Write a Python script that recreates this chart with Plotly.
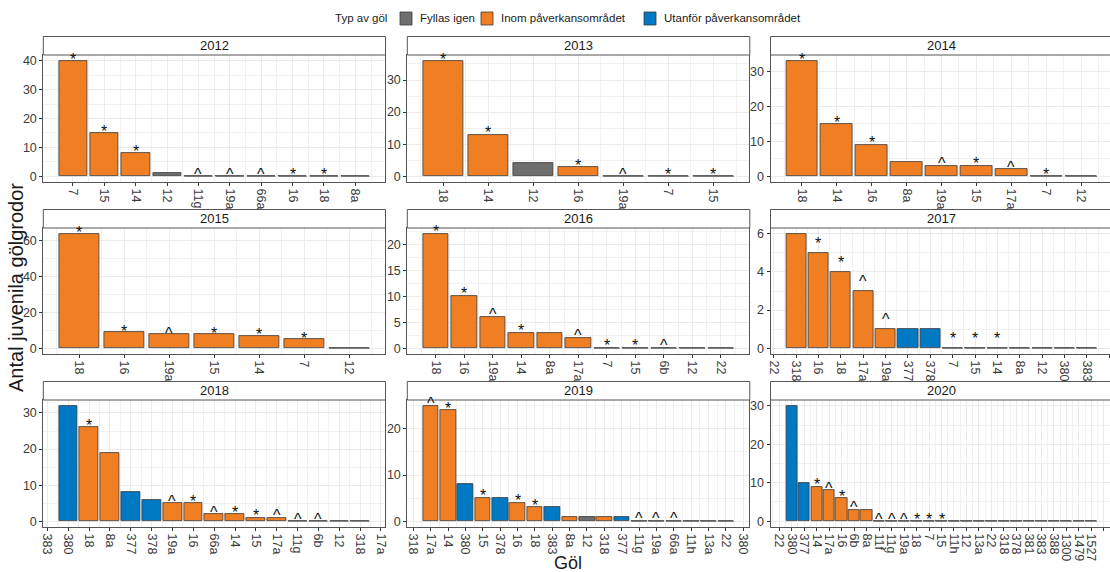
import plotly.graph_objects as go

# ---------------- data ----------------
years = [2012, 2013, 2014, 2015, 2016, 2017, 2018, 2019, 2020]

# F = Fyllas igen, I = Inom påverkansområdet, U = Utanför påverkansområdet
ponds_2012 = ["7", "15", "14", "12", "11g", "19a", "66a", "16", "18", "8a"]
counts_2012 = [40, 15, 8, 1, 0, 0, 0, 0, 0, 0]
types_2012 = ["I", "I", "I", "F", "I", "I", "I", "I", "I", "I"]
marks_2012 = ["*", "*", "*", "", "^", "^", "^", "*", "*", ""]

ponds_2013 = ["18", "14", "12", "16", "19a", "7", "15"]
counts_2013 = [36, 13, 4, 3, 0, 0, 0]
types_2013 = ["I", "I", "F", "I", "I", "I", "I"]
marks_2013 = ["*", "*", "", "*", "^", "*", "*"]

ponds_2014 = ["18", "14", "16", "8a", "19a", "15", "17a", "7", "12"]
counts_2014 = [33, 15, 9, 4, 3, 3, 2, 0, 0]
types_2014 = ["I", "I", "I", "I", "I", "I", "I", "I", "F"]
marks_2014 = ["*", "*", "*", "", "^", "*", "^", "*", ""]

ponds_2015 = ["18", "16", "19a", "15", "14", "7", "12"]
counts_2015 = [64, 9, 8, 8, 7, 5, 0]
types_2015 = ["I", "I", "I", "I", "I", "I", "F"]
marks_2015 = ["*", "*", "^", "*", "*", "*", ""]

ponds_2016 = ["18", "16", "19a", "14", "8a", "17a", "7", "15", "6b", "12", "22"]
counts_2016 = [22, 10, 6, 3, 3, 2, 0, 0, 0, 0, 0]
types_2016 = ["I", "I", "I", "I", "I", "I", "I", "I", "I", "F", "I"]
marks_2016 = ["*", "*", "^", "*", "", "^", "*", "*", "^", "", ""]

ponds_2017 = ["318", "16", "18", "17a", "19a", "377", "378", "7", "15", "14",
              "8a", "12", "380", "383"]
counts_2017 = [6, 5, 4, 3, 1, 1, 1, 0, 0, 0, 0, 0, 0, 0]
types_2017 = ["I", "I", "I", "I", "I", "U", "U", "I", "I", "I", "I", "F", "U", "U"]
marks_2017 = ["", "*", "*", "^", "^", "", "", "*", "*", "*", "", "", "", ""]

ponds_2018 = ["380", "18", "8a", "377", "378", "19a", "16", "66a", "14", "15",
              "17a", "11g", "6b", "12", "318"]
counts_2018 = [32, 26, 19, 8, 6, 5, 5, 2, 2, 1, 1, 0, 0, 0, 0]
types_2018 = ["U", "I", "I", "U", "U", "I", "I", "I", "I", "I", "I", "I", "I", "F", "I"]
marks_2018 = ["", "*", "", "", "", "^", "*", "^", "*", "*", "^", "^", "^", "", ""]

ponds_2019 = ["17a", "14", "380", "15", "378", "16", "18", "383", "8a", "12",
              "318", "377", "11g", "19a", "66a", "11h", "13a", "22"]
counts_2019 = [25, 24, 8, 5, 5, 4, 3, 3, 1, 1, 1, 1, 0, 0, 0, 0, 0, 0]
types_2019 = ["I", "I", "U", "I", "U", "I", "I", "U", "I", "F", "I", "U",
              "I", "I", "I", "I", "I", "I"]
marks_2019 = ["^", "*", "", "*", "", "*", "*", "", "", "", "", "",
              "^", "^", "^", "", "", ""]

ponds_2020 = ["380", "377", "14", "17a", "16", "6b", "8a", "11f", "11g", "19a",
              "18", "7", "15", "11h", "12", "13a", "22", "318", "378", "381",
              "383", "388", "1300", "1479", "1527"]
counts_2020 = [30, 10, 9, 8, 6, 3, 3, 0, 0, 0, 0, 0, 0, 0, 0, 0, 0, 0, 0, 0,
               0, 0, 0, 0, 0]
types_2020 = ["U", "U", "I", "I", "I", "I", "I", "I", "I", "I", "I", "I", "I",
              "I", "F", "I", "I", "I", "U", "U", "U", "U", "U", "U", "U"]
marks_2020 = ["", "", "*", "^", "*", "^", "", "^", "^", "^", "*", "*", "*",
              "", "", "", "", "", "", "", "", "", "", "", ""]

# labels that the x scale also shows just outside the bars
edge_labels = {2012: ("", ""), 2013: ("", ""), 2014: ("", ""),
               2015: ("", ""), 2016: ("", ""), 2017: ("22", "380"),
               2018: ("383", "17a"), 2019: ("318", "380"), 2020: ("22", "")}

y_steps = {2012: 10, 2013: 10, 2014: 10, 2015: 20, 2016: 5, 2017: 2,
           2018: 10, 2019: 10, 2020: 10}

type_order = ["F", "I", "U"]
type_names = {"F": "Fyllas igen", "I": "Inom påverkansområdet",
              "U": "Utanför påverkansområdet"}
type_colors = {"F": "#6E6E6E", "I": "#F07F24", "U": "#0079C5"}
legend_title = "Typ av göl"

panels = {
    2012: (ponds_2012, counts_2012, types_2012, marks_2012),
    2013: (ponds_2013, counts_2013, types_2013, marks_2013),
    2014: (ponds_2014, counts_2014, types_2014, marks_2014),
    2015: (ponds_2015, counts_2015, types_2015, marks_2015),
    2016: (ponds_2016, counts_2016, types_2016, marks_2016),
    2017: (ponds_2017, counts_2017, types_2017, marks_2017),
    2018: (ponds_2018, counts_2018, types_2018, marks_2018),
    2019: (ponds_2019, counts_2019, types_2019, marks_2019),
    2020: (ponds_2020, counts_2020, types_2020, marks_2020),
}

# ---------------- layout geometry (pixels) ----------------
W, H = 1110, 572
col_px = [(43.3, 385.0), (407.3, 749.3), (770.5, 1112.5)]
row_px = [(55.0, 182.0), (228.0, 354.0), (400.0, 527.0)]
strip_h = 18.5

FONT = "Liberation Sans, Arial, sans-serif"
TICK_COLOR = "#3A3A3A"
BORDER = "#555555"
GRID = "#EBEBEB"
OUTLINE = "#3A3A3A"

fig = go.Figure()
shapes = []
annotations = []
BAR_W = 0.9

for k, year in enumerate(years):
    ponds, counts, types, marks = panels[year]
    n = len(ponds)
    r, c = divmod(k, 3)
    ax = "" if k == 0 else str(k + 1)
    xref, yref = "x" + ax, "y" + ax
    pos = list(range(1, n + 1))

    # bars, one trace per pond type
    for t in type_order:
        xs = [p for p, tt in zip(pos, types) if tt == t]
        ys = [v for v, tt in zip(counts, types) if tt == t]
        if not xs:
            continue
        fig.add_trace(go.Bar(
            x=xs, y=ys, width=BAR_W, name=type_names[t],
            legendgroup=t, showlegend=False,
            marker=dict(color=type_colors[t],
                        line=dict(color=OUTLINE, width=0.8)),
            xaxis=xref, yaxis=yref, hoverinfo="x+y",
        ))

    # empty ponds: flat outline at zero
    zx, zy = [], []
    for p, v in zip(pos, counts):
        if v == 0:
            zx += [p - BAR_W / 2, p + BAR_W / 2, None]
            zy += [0, 0, None]
    if zx:
        fig.add_trace(go.Scatter(
            x=zx, y=zy, mode="lines", showlegend=False, hoverinfo="skip",
            line=dict(color="#7A7A7A", width=1.3),
            xaxis=xref, yaxis=yref,
        ))

    # significance marks above the bars
    for p, v, m in zip(pos, counts, marks):
        if m:
            annotations.append(dict(
                x=p, y=v + 0.5, xref=xref, yref=yref, text=m,
                showarrow=False, yanchor="middle", xanchor="center",
                font=dict(family=FONT, size=16, color="#111111"),
            ))

    # axis ranges (5 % expansion around the bar extent)
    lo, hi = 0.55, n + 0.45
    ex = 0.05 * (hi - lo)
    x0, x1 = lo - ex, hi + ex
    px0, px1 = col_px[c]
    vis_right = min(px1, W)
    x1_vis = x0 + (x1 - x0) * (vis_right - px0) / (px1 - px0)

    ymax = max(counts)
    py0, py1 = row_px[r]
    dom_x = [px0 / W, vis_right / W]
    dom_y = [1 - py1 / H, 1 - py0 / H]

    left_lbl, right_lbl = edge_labels[year]
    tickvals = [0] + pos + [n + 1]
    ticktext = [left_lbl] + ponds + [right_lbl]

    step = y_steps[year]
    fig.layout["xaxis" + ax] = dict(
        domain=dom_x, anchor=yref, range=[x0, x1_vis],
        tickmode="array", tickvals=tickvals, ticktext=ticktext,
        tickangle=90, ticks="outside", ticklen=3, tickcolor="#333333",
        tickfont=dict(family=FONT, size=12.5, color=TICK_COLOR),
        showgrid=True, gridcolor=GRID, gridwidth=1,
        minor=dict(tickmode="linear", tick0=0.5, dtick=1, showgrid=True,
                   gridcolor="#F1F1F1", gridwidth=0.6, ticks=""),
        showline=True, mirror=True, linecolor=BORDER, linewidth=1,
        zeroline=False, fixedrange=True,
    )
    fig.layout["yaxis" + ax] = dict(
        domain=dom_y, anchor=xref, range=[-0.05 * ymax, 1.05 * ymax],
        tickmode="linear", tick0=0, dtick=step,
        ticks="outside", ticklen=3, tickcolor="#333333",
        tickfont=dict(family=FONT, size=12.5, color=TICK_COLOR),
        showgrid=True, gridcolor=GRID, gridwidth=1,
        minor=dict(tickmode="linear", tick0=step / 2, dtick=step,
                   showgrid=True, gridcolor="#F1F1F1", gridwidth=0.6,
                   ticks=""),
        showline=True, mirror=True, linecolor=BORDER, linewidth=1,
        zeroline=False, fixedrange=True,
    )

    # facet strip
    shapes.append(dict(
        type="rect", xref="paper", yref="paper",
        x0=px0 / W, x1=min(px1 + 0.5, W + 5) / W,
        y0=1 - py0 / H, y1=1 - (py0 - strip_h) / H,
        fillcolor="white", line=dict(color=BORDER, width=1), layer="above",
    ))
    annotations.append(dict(
        x=(px0 + px1) / 2 / W,
        y=1 - (py0 - strip_h / 2) / H, xref="paper", yref="paper",
        text=str(year), showarrow=False, xanchor="center", yanchor="middle",
        font=dict(family=FONT, size=13, color="#1A1A1A"),
    ))

# legend: title, keys and labels along the top
leg_y = 18.5
annotations.append(dict(
    x=333 / W, y=1 - leg_y / H, xref="paper", yref="paper",
    text=legend_title, showarrow=False, xanchor="left", yanchor="middle",
    font=dict(family=FONT, size=11.5, color="#1A1A1A"),
))
key_left = {"F": 400, "I": 481, "U": 644}
for t in type_order:
    kx = key_left[t]
    shapes.append(dict(
        type="rect", xref="paper", yref="paper",
        x0=kx / W, x1=(kx + 12) / W,
        y0=1 - (leg_y + 6.5) / H, y1=1 - (leg_y - 6.5) / H,
        fillcolor=type_colors[t], line=dict(color=OUTLINE, width=0.8),
    ))
    annotations.append(dict(
        x=(kx + 18) / W, y=1 - leg_y / H, xref="paper", yref="paper",
        text=type_names[t], showarrow=False, xanchor="left",
        yanchor="middle",
        font=dict(family=FONT, size=11.5, color="#1A1A1A"),
    ))

# axis titles
annotations.append(dict(
    x=16 / W, y=1 - 288 / H, xref="paper", yref="paper",
    text="Antal juvenila gölgrodor", textangle=-90, showarrow=False,
    xanchor="center", yanchor="middle",
    font=dict(family=FONT, size=20, color="#1A1A1A"),
))
annotations.append(dict(
    x=568 / W, y=1 - 563 / H, xref="paper", yref="paper",
    text="Göl", showarrow=False, xanchor="center", yanchor="middle",
    font=dict(family=FONT, size=18, color="#1A1A1A"),
))

fig.update_layout(
    width=W, height=H, margin=dict(l=0, r=0, t=0, b=0),
    template="none", paper_bgcolor="white", plot_bgcolor="white",
    barmode="overlay", bargap=0, showlegend=False,
    shapes=shapes, annotations=annotations,
)

fig.write_html("out.html")
